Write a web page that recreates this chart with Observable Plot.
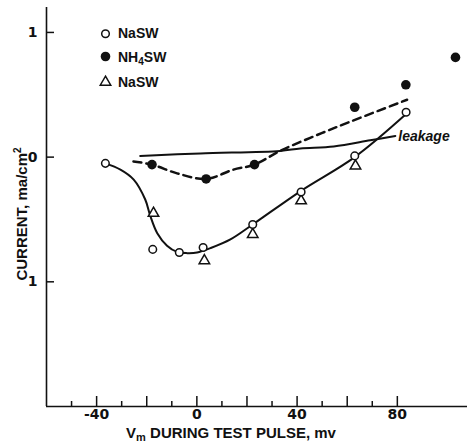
<!DOCTYPE html>
<html>
<head>
<meta charset="utf-8">
<script src="https://cdn.jsdelivr.net/npm/d3@7"></script>
<script src="https://cdn.jsdelivr.net/npm/@observablehq/plot@0.6"></script>
<style>
  html, body { margin: 0; padding: 0; background: #fff; }
  #chart { width: 467px; height: 447px; }
</style>
</head>
<body>
<div id="chart"></div>
<script>
// ---- Data ----
// NaSW (open circles)
const naswCircleX = [-36.5, -17.6, -7.0, 2.5, 22.3, 41.6, 63.0, 83.5];
const naswCircleY = [-0.05, -0.74, -0.765, -0.725, -0.54, -0.28, 0.01, 0.36];
// NaSW (open triangles)
const naswTriX = [-17.3, 3.0, 22.3, 41.6, 63.3];
const naswTriY = [-0.45, -0.83, -0.62, -0.35, -0.07];
// NH4SW (filled circles)
const nh4X = [-17.9, 3.7, 23.0, 63.0, 83.4, 103.2];
const nh4Y = [-0.06, -0.175, -0.06, 0.40, 0.58, 0.80];
// Smooth NaSW curve (solid)
const naswCurveX = [-36.5, -30.5, -25.2, -20.6, -18.6, -15.8, -11.9, -7.9, -3.9, 0.1, 5.4, 13.4, 22.3, 41.6, 63.0, 83.5];
const naswCurveY = [-0.05, -0.10, -0.18, -0.34, -0.47, -0.61, -0.71, -0.76, -0.77, -0.765, -0.73, -0.66, -0.54, -0.27, 0.0, 0.345];
// NH4SW curve (dashed)
const nh4CurveX = [-25.3, -17.9, -7.9, 3.7, 14.6, 23.0, 33.2, 46.5, 61.3, 83.9];
const nh4CurveY = [-0.035, -0.06, -0.13, -0.175, -0.10, -0.06, 0.05, 0.165, 0.285, 0.46];
// Leakage line (solid)
const leakX = [-22.6, 1.4, 33.2, 41.3, 54.6, 69.2, 79.2];
const leakY = [0.01, 0.03, 0.05, 0.07, 0.085, 0.135, 0.17];

// Axes
const xDomain = [-60, 108];
const yDomain = [-2, 1.2];
const xMinorTicks = [-50, -30, -10, 10, 30, 50, 70];
const xMajorTicks = [-40, -20, 0, 20, 40, 60, 80];
const xLabelTicks = [-40, 0, 40, 80];
const yTicks = [1, 0, -1];
const yTickLabels = ["1", "0", "1"];

const seriesNames = ["NaSW", "NH4SW", "NaSW"];

// ---- Build tables ----
const zip = (xs, ys) => xs.map((x, i) => ({x, y: ys[i]}));
const naswCircles = zip(naswCircleX, naswCircleY);
const naswTris = zip(naswTriX, naswTriY);
const nh4Dots = zip(nh4X, nh4Y);
const naswCurve = zip(naswCurveX, naswCurveY);
const nh4Curve = zip(nh4CurveX, nh4CurveY);
const leak = zip(leakX, leakY);

const ink = "#111";

const plot = Plot.plot({
  width: 467,
  height: 447,
  marginLeft: 46,
  marginRight: 0,
  marginTop: 7,
  marginBottom: 41,
  x: {domain: xDomain},
  y: {domain: yDomain},
  style: {fontFamily: "'Liberation Sans', sans-serif", background: "#fff", color: ink, overflow: "visible"},
  marks: [
    // axis lines
    Plot.ruleX([xDomain[0]], {y1: yDomain[0], y2: yDomain[1], stroke: ink, strokeWidth: 1.6}),
    Plot.ruleY([yDomain[0]], {x1: xDomain[0], x2: xDomain[1], stroke: ink, strokeWidth: 1.6}),
    // inward ticks
    Plot.ruleX(xMinorTicks, {x: d => d, y1: yDomain[0], y2: yDomain[0], insetTop: -5, stroke: ink, strokeWidth: 1.5}),
    Plot.ruleX(xMajorTicks, {x: d => d, y1: yDomain[0], y2: yDomain[0], insetTop: -10, stroke: ink, strokeWidth: 1.5}),
    Plot.ruleY(yTicks, {y: d => d, x1: xDomain[0], x2: xDomain[0], insetRight: -8, stroke: ink, strokeWidth: 1.5}),
    // tick labels
    Plot.axisX({ticks: xLabelTicks, tickSize: 0, tickPadding: 3, tickFormat: d => String(d), label: null,
      fontSize: 14, fontFamily: "DejaVu Sans", fontWeight: "bold", fill: ink}),
    Plot.axisY({ticks: yTicks, tickSize: 0, tickPadding: 9, tickFormat: d => yTickLabels[yTicks.indexOf(d)], label: null,
      fontSize: 14, fontFamily: "DejaVu Sans", fontWeight: "bold", fill: ink}),
    // curves
    Plot.line(leak, {x: "x", y: "y", curve: "catmull-rom", stroke: ink, strokeWidth: 2}),
    Plot.line(nh4Curve, {x: "x", y: "y", curve: "catmull-rom", stroke: ink, strokeWidth: 2.5, strokeDasharray: "8,5"}),
    Plot.line(naswCurve, {x: "x", y: "y", curve: "catmull-rom", stroke: ink, strokeWidth: 2}),
    Plot.text([leak[leak.length - 1]], {x: "x", y: "y", text: () => "leakage", textAnchor: "start", dx: 3, dy: 1,
      fontSize: 14, fontStyle: "italic", fontWeight: "bold", fill: ink}),
    // points
    Plot.dot(naswTris, {x: "x", y: "y", symbol: "triangle", r: 3.9, stroke: ink, fill: "#fff", strokeWidth: 1.5}),
    Plot.dot(naswCircles, {x: "x", y: "y", symbol: "circle", r: 3.8, stroke: ink, fill: "#fff", strokeWidth: 1.5}),
    Plot.dot(nh4Dots, {x: "x", y: "y", symbol: "circle", r: 4.8, fill: ink, stroke: "none"}),
    // legend symbols
    Plot.dot([seriesNames[0]], {frameAnchor: "top-left", dx: 59, dy: 26.3, r: 3.8, stroke: ink, fill: "#fff", strokeWidth: 1.5}),
    Plot.dot([seriesNames[1]], {frameAnchor: "top-left", dx: 59, dy: 49, r: 4.8, fill: ink}),
    Plot.dot([seriesNames[2]], {frameAnchor: "top-left", dx: 59, dy: 74.7, symbol: "triangle", r: 3.9, stroke: ink, fill: "#fff", strokeWidth: 1.5})
  ]
});

document.getElementById("chart").appendChild(plot);

// ---- Text with sub/superscripts ----
const svg = d3.select(plot);
const txt = (x, y, size) => svg.append("text")
  .attr("x", x).attr("y", y)
  .attr("text-anchor", "start")
  .attr("font-family", "'Liberation Sans', sans-serif")
  .attr("font-weight", "bold")
  .attr("font-size", size)
  .attr("fill", ink);

// legend labels
txt(118, 38.3, 14).text(seriesNames[0]);
const l2 = txt(118, 61.7, 14);
l2.append("tspan").text("NH");
l2.append("tspan").attr("font-size", 10).attr("dy", 3).text("4");
l2.append("tspan").attr("dy", -3).text("SW");
txt(118, 86.7, 14).text(seriesNames[2]);

// x axis label
const xl = txt(231, 438, 15).attr("text-anchor", "middle");
xl.append("tspan").text("V");
xl.append("tspan").attr("font-size", 11).attr("dy", 3).text("m");
xl.append("tspan").attr("dy", -3).text(" DURING TEST PULSE, mv");

// y axis label
const yl = txt(0, 0, 15).attr("text-anchor", "middle")
  .attr("transform", "translate(27,214) rotate(-90)");
yl.append("tspan").text("CURRENT, ma/cm");
yl.append("tspan").attr("font-size", 10).attr("dy", -6).text("2");
</script>
</body>
</html>
